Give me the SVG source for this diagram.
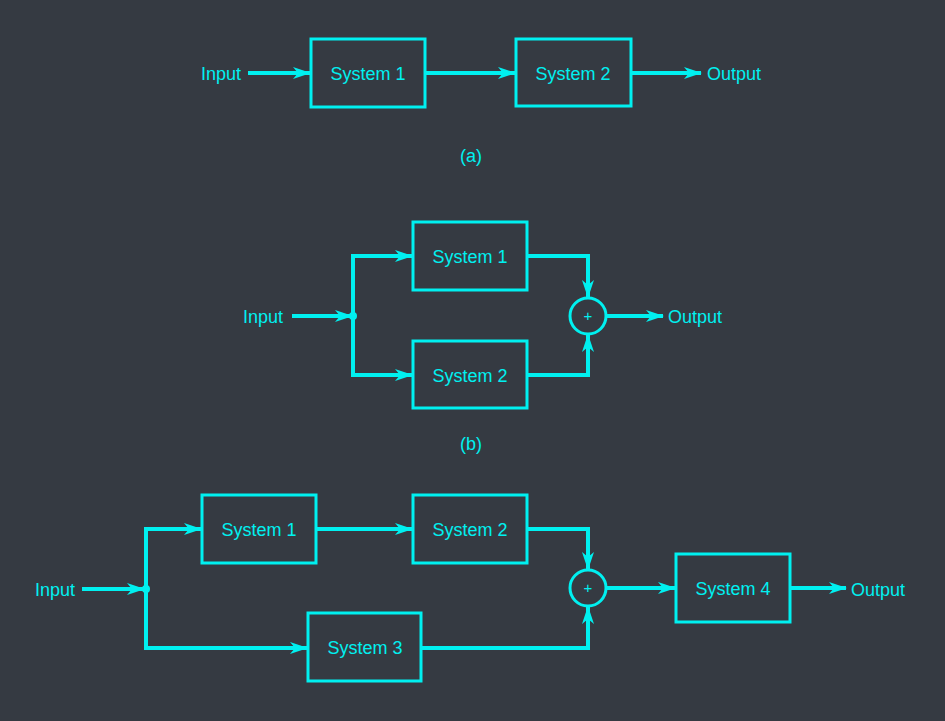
<svg xmlns="http://www.w3.org/2000/svg" width="945" height="721" viewBox="0 0 945 721">
<defs>
<marker id="ah" markerWidth="18" markerHeight="14" refX="17" refY="7" orient="auto" markerUnits="userSpaceOnUse">
<path d="M0,1 L18,7 L0,13 L5,7 Z" fill="#00f0f0"/>
</marker>
</defs>
<style>
.box{fill:none;stroke:#00f0f0;stroke-width:3}
.ln{fill:none;stroke:#00f0f0;stroke-width:4}
.sum{fill:none;stroke:#00f0f0;stroke-width:3}
text{font-family:"Liberation Sans",Arial,sans-serif;font-size:18px;fill:#00f0f0}
.c{text-anchor:middle}
</style>
<rect width="945" height="721" fill="#353a42"/>
<g id="a-input"><text x="201" y="80">Input</text></g>
<g id="a-sys1"><rect class="box" x="311" y="39" width="114" height="68"/><text class="c" x="368" y="80">System 1</text></g>
<g id="a-sys2"><rect class="box" x="516" y="39" width="115" height="67"/><text class="c" x="573" y="80">System 2</text></g>
<g id="a-output"><text x="707" y="80">Output</text></g>
<text class="c" x="471" y="162">(a)</text>

<g id="b-input"><text x="243" y="323">Input</text></g>
<g id="b-sys1"><rect class="box" x="413" y="222" width="114" height="68"/><text class="c" x="470" y="263">System 1</text></g>
<g id="b-sys2"><rect class="box" x="413" y="341" width="114" height="67"/><text class="c" x="470" y="382">System 2</text></g>
<g id="b-sum"><circle class="sum" cx="588" cy="316" r="18"/><text class="c" x="588" y="321" style="font-size:15px">+</text></g>
<g id="b-output"><text x="668" y="323">Output</text></g>
<text class="c" x="471" y="450">(b)</text>

<g id="c-input"><text x="35" y="596">Input</text></g>
<g id="c-sys1"><rect class="box" x="202" y="495" width="114" height="68"/><text class="c" x="259" y="536">System 1</text></g>
<g id="c-sys2"><rect class="box" x="413" y="495" width="114" height="68"/><text class="c" x="470" y="536">System 2</text></g>
<g id="c-sys3"><rect class="box" x="308" y="613" width="113" height="68"/><text class="c" x="365" y="654">System 3</text></g>
<g id="c-sys4"><rect class="box" x="676" y="554" width="114" height="68"/><text class="c" x="733" y="595">System 4</text></g>
<g id="c-sum"><circle class="sum" cx="588" cy="588" r="18"/><text class="c" x="588" y="593" style="font-size:15px">+</text></g>
<g id="c-output"><text x="851" y="596">Output</text></g>

<g id="connectors">
<line class="ln" x1="248" y1="73" x2="310" y2="73" marker-end="url(#ah)"/>
<line class="ln" x1="425" y1="73" x2="515" y2="73" marker-end="url(#ah)"/>
<line class="ln" x1="631" y1="73" x2="701" y2="73" marker-end="url(#ah)"/>

<line class="ln" x1="292" y1="316" x2="352" y2="316" marker-end="url(#ah)"/>
<circle cx="353" cy="316" r="4" fill="#00f0f0"/>
<polyline class="ln" points="411,256 353,256 353,375 411,375"/>
<line class="ln" x1="392" y1="256" x2="412" y2="256" marker-end="url(#ah)"/>
<line class="ln" x1="392" y1="375" x2="412" y2="375" marker-end="url(#ah)"/>
<polyline class="ln" points="527,256 588,256 588,297" marker-end="url(#ah)"/>
<polyline class="ln" points="527,375 588,375 588,335" marker-end="url(#ah)"/>
<line class="ln" x1="606" y1="316" x2="663" y2="316" marker-end="url(#ah)"/>

<line class="ln" x1="82" y1="589" x2="144" y2="589" marker-end="url(#ah)"/>
<circle cx="146" cy="589" r="4" fill="#00f0f0"/>
<polyline class="ln" points="200,529 146,529 146,648 306,648"/>
<line class="ln" x1="182" y1="529" x2="201" y2="529" marker-end="url(#ah)"/>
<line class="ln" x1="287" y1="648" x2="307" y2="648" marker-end="url(#ah)"/>
<line class="ln" x1="316" y1="529" x2="412" y2="529" marker-end="url(#ah)"/>
<polyline class="ln" points="527,529 588,529 588,569" marker-end="url(#ah)"/>
<polyline class="ln" points="421,648 588,648 588,607" marker-end="url(#ah)"/>
<line class="ln" x1="606" y1="588" x2="675" y2="588" marker-end="url(#ah)"/>
<line class="ln" x1="790" y1="588" x2="846" y2="588" marker-end="url(#ah)"/>
</g>
</svg>
